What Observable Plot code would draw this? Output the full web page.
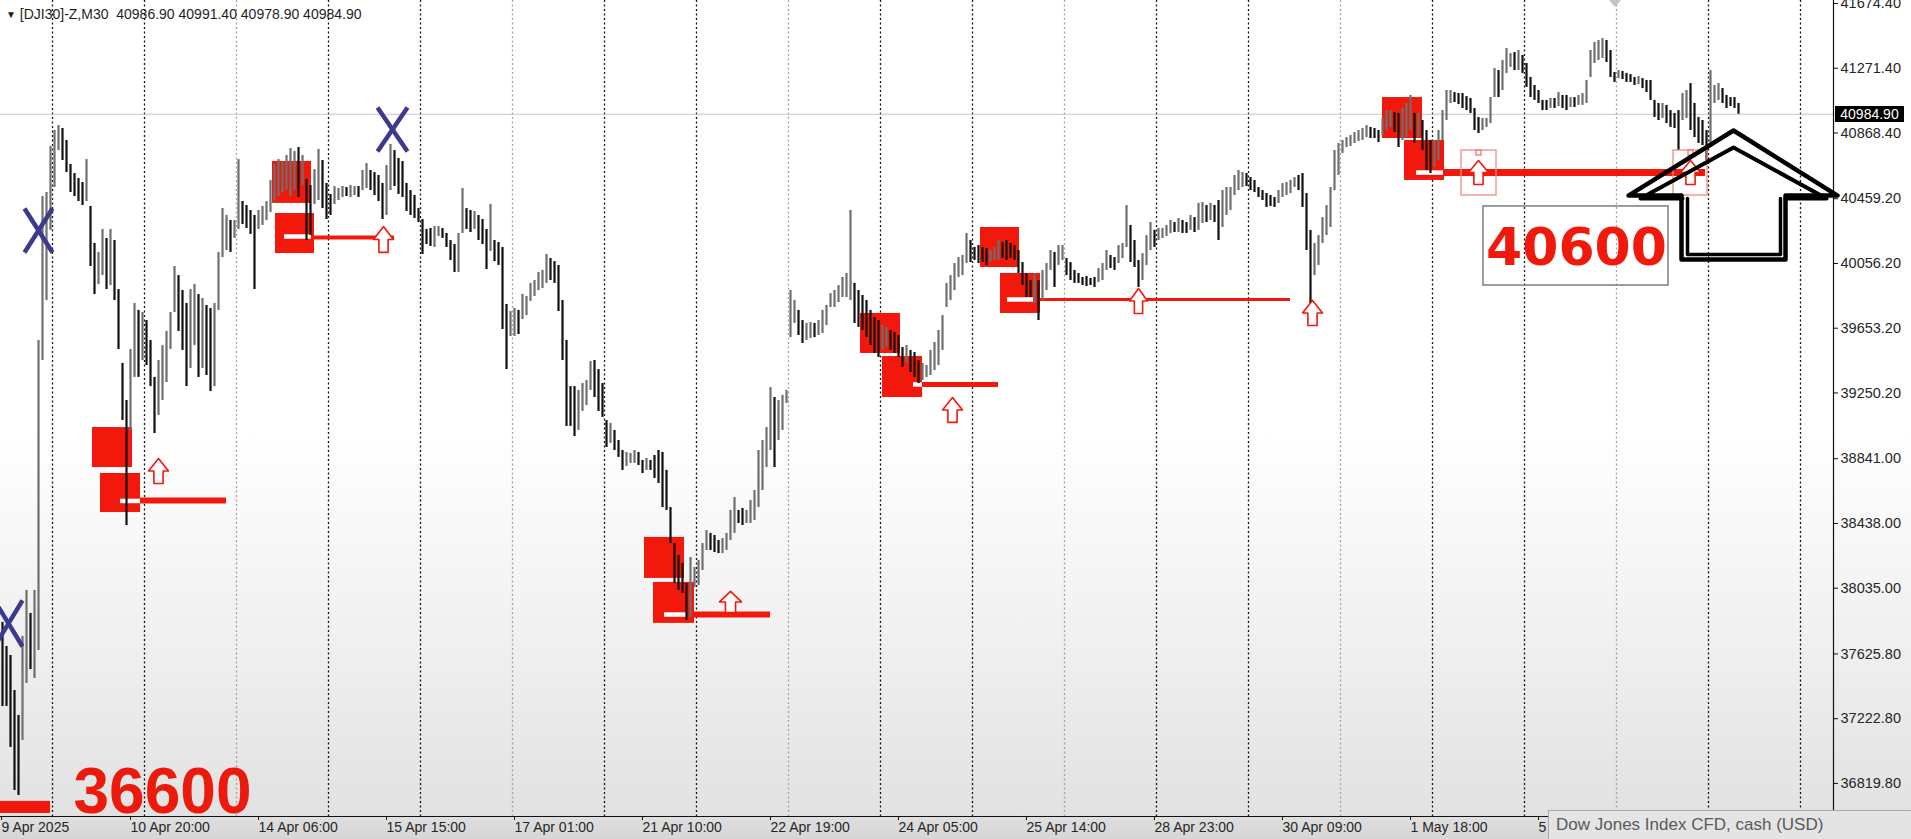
<!DOCTYPE html>
<html><head><meta charset="utf-8">
<script src="https://cdn.jsdelivr.net/npm/d3@7"></script>
<script src="https://cdn.jsdelivr.net/npm/@observablehq/plot@0.6"></script>
<style>
html,body{margin:0;padding:0;width:1911px;height:839px;overflow:hidden;background:#fff;}
#wrap{position:relative;width:1911px;height:839px;overflow:hidden;
  background:linear-gradient(to bottom,#ffffff 0px,#ffffff 430px,#f0f0f0 640px,#e2e2e2 812px,#d5d5d5 839px);
  font-family:"Liberation Sans",sans-serif;}
#wrap svg{position:absolute;left:0;top:0;}
#hdr{position:absolute;left:6px;top:6px;font-size:14px;line-height:16px;color:#1e1e1e;white-space:pre;}
#hdr .tri{font-size:10px;vertical-align:1px;}
#tip{position:absolute;left:1548px;top:810px;width:372px;height:31px;background:#e4e4e4;border:1px solid #a9a9a9;box-sizing:border-box;font-size:17px;line-height:28px;color:#5a5a5a;padding-left:7px;white-space:nowrap;}
#last{position:absolute;left:1835px;width:69px;height:16px;background:#000;color:#fff;font-size:14px;line-height:16px;text-align:center;}
#shift{position:absolute;left:1609px;top:0;width:0;height:0;border-left:6px solid transparent;border-right:6px solid transparent;border-top:7px solid #c4c4c4;}
</style></head>
<body><div id="wrap"></div>
<script>
// ---------- data ----------
const symbolName = "[DJI30]-Z,M30";
const lastOHLC = [40986.90, 40991.40, 40978.90, 40984.90];
const tooltipText = "Dow Jones Index CFD, cash (USD)";

// M30 price path, one entry per 2 bars (high / low)
const highs = [
37822,37672,37616,37398,37243,37735,38021,37878,38021,39577,
40473,40498,40784,40884,40915,40896,40822,40672,40616,40585,
40560,40703,40411,40181,40125,40268,40212,40268,40199,39894,
39434,39203,39521,39807,39764,39751,39701,39577,39347,39452,
39546,39633,39751,40037,39981,39888,39807,39894,39925,39863,
39838,39795,39776,39807,40125,40398,40355,40324,40324,40703,
40442,40417,40386,40355,40386,40411,40442,40573,40672,40703,
40685,40728,40772,40753,40778,40728,40579,40542,40641,40766,
40697,40554,40486,40535,40523,40535,40529,40542,40535,40535,
40635,40678,40635,40622,40604,40554,40666,40797,40759,40710,
40691,40554,40510,40479,40398,40330,40268,40274,40286,40286,
40274,40243,40199,40174,40243,40523,40398,40386,40380,40355,
40330,40268,40423,40199,40187,40156,39801,39757,39776,39764,
39863,39851,39932,39950,40000,40013,40112,40087,40068,40044,
39826,39577,39290,39290,39266,39309,39328,39446,39452,39396,
39309,39079,39060,39017,38954,38892,38880,38874,38892,38880,
38830,38842,38830,38861,38892,38880,38768,38537,38313,38239,
38189,38064,38226,38164,38208,38313,38394,38376,38363,38332,
38344,38376,38519,38600,38519,38531,38519,38581,38643,38892,
38954,39035,39284,39222,39203,39235,39266,39888,39826,39764,
39701,39683,39689,39683,39701,39764,39795,39869,39888,39919,
39969,39994,40386,39932,39888,39857,39826,39764,39720,39701,
39670,39658,39639,39627,39608,39533,39546,39515,39502,39452,
39434,39421,39515,39564,39639,39732,39932,39981,40056,40093,
40106,40243,40199,40156,40168,40156,40149,40137,40156,40199,
40187,40199,40181,40168,40137,40062,39994,39950,39994,39950,
40013,40056,40137,40125,40168,40168,40087,40062,40013,39994,
39969,39975,39963,39969,40025,40056,40137,40106,40093,40168,
40181,40417,40293,40199,40075,40118,40230,40311,40262,40274,
40274,40293,40324,40311,40336,40324,40311,40355,40342,40430,
40436,40417,40430,40417,40448,40510,40529,40529,40604,40635,
40622,40616,40591,40573,40529,40510,40492,40479,40467,40510,
40554,40560,40573,40591,40604,40616,40492,40262,40181,40230,
40342,40417,40529,40759,40803,40822,40840,40853,40871,40884,
40896,40915,40903,40896,40884,40959,41008,41008,40996,40990,
41021,41052,41102,40990,40990,40946,40884,40822,40822,40884,
41008,41133,41133,41120,41114,41114,41095,41083,41021,40965,
40959,40959,41089,41270,41257,41320,41394,41363,41369,41382,
41351,41301,41214,41164,41133,41071,41071,41083,41083,41120,
41102,41102,41089,41089,41102,41114,41195,41382,41432,41444,
41456,41444,41382,41245,41257,41251,41239,41232,41214,41220,
41207,41195,41195,41071,41052,41052,41040,41008,40990,41008,
41114,41133,41176,41052,40965,40946,40884,41257,41164,41176,
41145,41102,41089,41089,41052];
const lows = [
37299,37299,37044,36776,36745,37087,37442,37529,37473,37647,
39452,39826,40262,40529,40759,40697,40622,40498,40473,40442,
40417,40442,40037,39863,39925,39981,39894,39919,39826,39521,
39079,38425,39017,39347,39347,39452,39421,39290,38998,39110,
39203,39315,39521,39751,39633,39515,39290,39403,39546,39347,
39403,39359,39259,39290,39764,40093,40137,40125,40212,40268,
40299,40274,40237,39894,40268,40293,40324,40373,40442,40473,
40498,40510,40473,40510,40467,40542,40199,40230,40423,40448,
40398,40330,40355,40423,40448,40467,40473,40467,40479,40467,
40510,40523,40510,40479,40442,40330,40355,40510,40535,40486,
40467,40380,40355,40336,40311,40112,40174,40162,40156,40224,
40212,40156,40075,40000,40000,40243,40268,40249,40268,40199,
40174,40019,40131,40068,40044,39645,39396,39602,39602,39614,
39707,39732,39820,39851,39888,39900,39932,39950,39932,39757,
39452,39042,39042,38979,39017,39135,39172,39266,39222,39135,
39098,38911,38936,38892,38849,38768,38793,38811,38811,38799,
38749,38768,38768,38718,38687,38537,38519,38313,38064,38021,
38002,37834,37853,38040,38052,38145,38270,38270,38257,38251,
38251,38270,38332,38376,38438,38425,38438,38438,38457,38537,
38643,38786,38892,38786,38954,39017,39185,39595,39683,39608,
39558,39577,39589,39595,39608,39620,39670,39782,39782,39813,
39844,39844,39826,39683,39658,39639,39595,39546,39496,39471,
39515,39533,39515,39496,39471,39409,39440,39378,39347,39309,
39328,39347,39359,39390,39421,39515,39782,39826,39888,39969,
39981,40056,40062,40075,40056,40062,40044,40062,40075,40075,
40087,40075,40087,40075,39994,39919,39844,39844,39807,39701,
39826,39888,40013,39907,40044,40075,39981,39950,39932,39932,
39919,39913,39919,39907,39938,39950,40013,40025,40013,40056,
40087,40156,40062,40031,39907,39950,40044,40137,40156,40199,
40212,40224,40243,40249,40249,40243,40243,40262,40249,40262,
40305,40311,40324,40311,40199,40280,40355,40386,40479,40510,
40529,40535,40510,40498,40467,40448,40405,40411,40405,40430,
40467,40479,40492,40529,40510,40405,40137,39745,39981,40044,
40181,40230,40280,40510,40604,40741,40778,40784,40803,40815,
40822,40840,40834,40834,40809,40853,40884,40903,40871,40778,
40822,40840,40884,40803,40840,40759,40635,40616,40654,40697,
40822,40946,41052,41058,41046,41021,41008,40990,40884,40865,
40884,40903,40927,41089,41089,41133,41239,41276,41257,41257,
41239,41152,41089,41071,41052,41008,41008,41021,41021,41033,
41021,41008,41027,41027,41040,41040,41052,41214,41301,41320,
41332,41307,41214,41183,41207,41201,41183,41183,41164,41170,
41145,41120,41071,40965,40946,40959,40927,40903,40896,40759,
40946,40959,40884,40840,40803,40790,40697,40778,41052,41071,
41052,41021,41033,41021,40985];
const barsPerSample = 2;

// axes
const priceTicks = [41674.40, 41271.40, 40868.40, 40459.20, 40056.20, 39653.20, 39250.20, 38841.00, 38438.00, 38035.00, 37625.80, 37222.80, 36819.80];
const timeTickBars = [0, 64.5, 128.5, 192.5, 256.5, 320.5, 384.5, 448.5, 512.5, 576.5, 640.5, 704.5, 768.5];
const timeTickLabels = ["9 Apr 2025","10 Apr 20:00","14 Apr 06:00","15 Apr 15:00","17 Apr 01:00","21 Apr 10:00","22 Apr 19:00","24 Apr 05:00","25 Apr 14:00","28 Apr 23:00","30 Apr 09:00","1 May 18:00","5 May 04:00"];
const separatorBars = [26, 72, 118, 164, 210, 256, 302, 348, 394, 440, 486, 532, 578, 624, 670, 716, 762, 808, 854, 900];

// annotations (bar index / price)
const zoneBlocks = [
  {b0:46, b1:66, p0:39035, p1:38786}, {b0:50, b1:70, p0:38749, p1:38506},
  {b0:136, b1:155.5, p0:40691, p1:40430}, {b0:137.5, b1:157, p0:40367, p1:40118},
  {b0:322, b1:342, p0:38351, p1:38096}, {b0:326.5, b1:347, p0:38071, p1:37816},
  {b0:430, b1:450, p0:39745, p1:39496}, {b0:441, b1:461, p0:39477, p1:39222},
  {b0:490, b1:509.5, p0:40280, p1:40031}, {b0:500, b1:520, p0:39994, p1:39745},
  {b0:691, b1:711, p0:41089, p1:40834}, {b0:702, b1:722, p0:40822, p1:40573},
  {b0:0, b1:25, p0:36708, p1:36633}
];
const zoneMarks = [
  {b0:60, b1:70, p:38578}, {b0:142, b1:155.5, p:40224}, {b0:332, b1:343.5, p:37871},
  {b0:456.5, b1:461, p:39303}, {b0:503.5, b1:516.5, p:39832}, {b0:708, b1:721.5, p:40622}
];
const levels = [
  {b0:70, b1:113, p:38581}, {b0:157, b1:197, p:40218}, {b0:347, b1:385, p:37871},
  {b0:461, b1:499, p:39303}, {b0:520, b1:645, p:39832}, {b0:722, b1:852.5, p:40622}
];
const levelWidths = [6, 4, 6, 5, 3, 7];
const upArrows = [
  {b0:74, b1:84, top:38842, bot:38687}, {b0:186.5, b1:196.5, top:40286, bot:40125},
  {b0:359.5, b1:370.5, top:38015, bot:37884}, {b0:471, b1:481, top:39222, bot:39067},
  {b0:564.5, b1:573.5, top:39900, bot:39745}, {b0:651, b1:661, top:39826, bot:39670},
  {b0:734, b1:744, top:40697, bot:40548}, {b0:840, b1:850, top:40697, bot:40548}
];
const arrowBoxes = [{b0:730.5, b1:748, p0:40759, p1:40479}, {b0:836.5, b1:853.5, p0:40759, p1:40479}];
const arrowAnchors = [{b0:738, b1:740.5, p0:40759, p1:40728}, {b0:844, b1:846.5, p0:40759, p1:40728}];
const crossMarks = [
  {b0:12, b1:26, top:40398, bot:40125},
  {b0:188.5, b1:203.5, top:41027, bot:40753},
  {b0:-3, b1:11, top:37959, bot:37672}
];
const labelLow = {bar:81, price:36765, text:"36600"};
const labelTarget = {bar:788, price:40149, text:"40600"};
const targetBox = {b0:741.5, b1:834, p0:40411, p1:39919};
const bigArrowOuter = [[814,40479],[866.5,40884],[918.5,40479],[892.5,40479],[892.5,40081],[840.5,40081],[840.5,40479]];
const bigArrowInner = [[841,40461],[820,40461],[866.5,40778],[913,40461],[892.5,40461]];
const bigArrowShaft = [[843.5,40461],[843.5,40112],[890,40112],[890,40461]];

// ---------- build ----------
const bars = highs.map((h, i) => ({
  bar: i * barsPerSample + 1, high: h, low: lows[i],
  up: i > 0 && (h + lows[i]) > (highs[i - 1] + lows[i - 1])
}));
const tickLabel = new Map(timeTickBars.map((b, i) => [b, timeTickLabels[i]]));
function arrowPoly(a, id) {
  const xc = (a.b0 + a.b1) / 2, sw = (a.b1 - a.b0) * 0.46, mid = a.top - (a.top - a.bot) * 0.5;
  return [[xc, a.top], [a.b1, mid], [xc + sw / 2, mid], [xc + sw / 2, a.bot], [xc - sw / 2, a.bot], [xc - sw / 2, mid], [a.b0, mid]]
    .map(([x, y]) => ({x, y, id}));
}
const arrowPts = upArrows.flatMap((a, i) => arrowPoly(a, i));
const crossSegs = crossMarks.flatMap(c => [
  {x1:c.b0, y1:c.top, x2:c.b1, y2:c.bot}, {x1:c.b0, y1:c.bot, x2:c.b1, y2:c.top}
]);
const pts = (arr, id) => arr.map(([x, y]) => ({x, y, id}));
const RED = "#f2180b";
const FONT = '"Liberation Sans",sans-serif';

const chart = Plot.plot({
  width: 1911, height: 839,
  marginLeft: 0, marginRight: 78, marginTop: 0, marginBottom: 23,
  x: {domain: [0, 916.5], label: null},
  y: {domain: [36614, 41693], label: null},
  style: {background: "transparent", fontFamily: FONT, fontSize: "14px", color: "#1e1e1e", overflow: "visible"},
  marks: [
    Plot.ruleX(separatorBars.filter((d, i) => i % 3 !== 2), {stroke: "#111", strokeDasharray: "2,2.5", strokeWidth: 1.3}),
    Plot.ruleX(separatorBars.filter((d, i) => i % 3 === 2), {stroke: "#a3a3a3", strokeDasharray: "2,2.5", strokeWidth: 1.3}),
    Plot.ruleY([lastOHLC[3]], {stroke: "#c6c6c6", strokeWidth: 1.2}),
    Plot.rect(zoneBlocks, {x1: "b0", x2: "b1", y1: "p0", y2: "p1", fill: RED}),
    Plot.ruleY(zoneMarks, {x1: "b0", x2: "b1", y: "p", stroke: "#fff", strokeWidth: 4.5}),
    Plot.ruleY(levels, {x1: "b0", x2: "b1", y: "p", stroke: RED, strokeWidth: (d, i) => levelWidths[i]}),
    Plot.rect([targetBox], {x1: "b0", x2: "b1", y1: "p0", y2: "p1", fill: "none", stroke: "#7d7d7d", strokeWidth: 1.5}),
    Plot.ruleX(bars.filter(d => d.up), {x: "bar", y1: "low", y2: "high", stroke: "#6f6f6f", strokeWidth: 2.2}),
    Plot.ruleX(bars.filter(d => !d.up), {x: "bar", y1: "low", y2: "high", stroke: "#101010", strokeWidth: 2.2}),
    Plot.rect(arrowBoxes, {x1: "b0", x2: "b1", y1: "p0", y2: "p1", fill: "none", stroke: "#f08a84", strokeWidth: 1.3}),
    Plot.rect(arrowAnchors, {x1: "b0", x2: "b1", y1: "p0", y2: "p1", fill: "white", stroke: "#f06a60", strokeWidth: 1.2}),
    Plot.line(arrowPts, {x: "x", y: "y", z: "id", curve: "linear-closed", stroke: RED, strokeWidth: 1.6, fill: "white"}),
    Plot.link(crossSegs, {x1: "x1", y1: "y1", x2: "x2", y2: "y2", stroke: "#3b3a8e", strokeWidth: 4.5}),
    Plot.text([labelLow], {x: "bar", y: "price", text: "text", fill: "#ec1a0c", fontSize: 64, fontWeight: "bold", fontFamily: "Liberation Sans", lineAnchor: "middle"}),
    Plot.text([labelTarget], {x: "bar", y: "price", text: "text", fill: "#f01a0c", fontSize: 52, fontWeight: "bold", fontFamily: "DejaVu Sans", lineAnchor: "middle"}),
    Plot.line(pts(bigArrowOuter, 0), {x: "x", y: "y", curve: "linear-closed", stroke: "#000", strokeWidth: 4.5, fill: "none"}),
    Plot.line(pts(bigArrowInner, 1), {x: "x", y: "y", stroke: "#000", strokeWidth: 4, fill: "none"}),
    Plot.line(pts(bigArrowShaft, 2), {x: "x", y: "y", stroke: "#000", strokeWidth: 3.5, fill: "none"}),
    Plot.ruleX([916.5], {stroke: "#111", strokeWidth: 1.2}),
    Plot.ruleY([36614], {stroke: "#111", strokeWidth: 1.2}),
    Plot.axisY(priceTicks, {anchor: "right", tickSize: 4, tickPadding: 3, tickFormat: d => d.toFixed(2), fill: "#262626", stroke: "#111", fontSize: 14.5}),
    Plot.axisX(timeTickBars, {anchor: "bottom", tickSize: 4, tickPadding: 2, tickFormat: d => tickLabel.get(d), textAnchor: "start", dx: 1, fill: "#262626", stroke: "#111", fontSize: 14})
  ]
});
const wrap = document.getElementById("wrap");
wrap.appendChild(chart);

const hdr = document.createElement("div");
hdr.id = "hdr";
hdr.innerHTML = '<span class="tri">▼</span> ' + symbolName + "  " + lastOHLC.map(v => v.toFixed(2)).join(" ");
wrap.appendChild(hdr);

const shift = document.createElement("div");
shift.id = "shift";
wrap.appendChild(shift);

const last = document.createElement("div");
last.id = "last";
last.textContent = lastOHLC[3].toFixed(2);
last.style.top = (chart.scale("y").apply(lastOHLC[3]) - 8) + "px";
wrap.appendChild(last);

const tip = document.createElement("div");
tip.id = "tip";
tip.textContent = tooltipText;
wrap.appendChild(tip);
</script>
</body></html>
